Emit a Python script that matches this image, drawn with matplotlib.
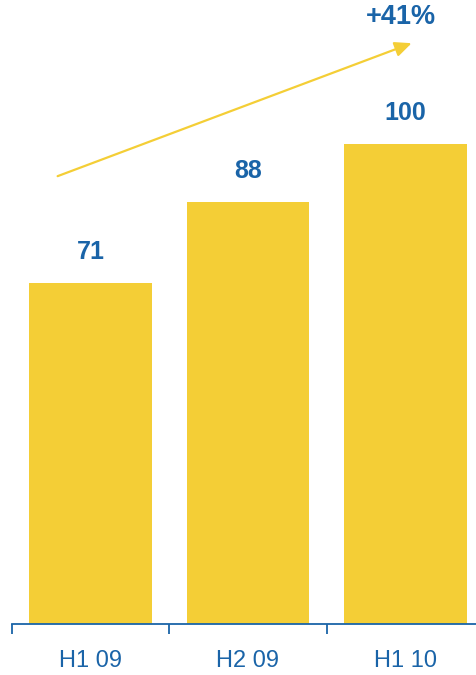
import matplotlib.pyplot as plt
from matplotlib.ticker import FixedLocator

# data
periods = ['H1 09', 'H2 09', 'H1 10']
values = [71, 88, 100]

bar_color = '#F4CE36'
blue = '#1A64A8'

plt.rcParams['font.family'] = ['Liberation Sans', 'DejaVu Sans']

fig = plt.figure(figsize=(4.77, 6.75), dpi=100)
# axes run a bit past the right edge, like the original slide crop
ax = fig.add_axes([12 / 477, 51 / 675, 472 / 477, 624 / 675])

x = list(range(len(periods)))
bars = ax.bar(x, values, width=0.78, color=bar_color, zorder=2)

ax.set_xlim(-0.5, len(periods) - 0.5)
ax.set_ylim(0, 130)

# value labels above bars
for xi, v in zip(x, values):
    ax.annotate(str(v), (xi, v), xytext=(0, 31), textcoords='offset pixels',
                ha='center', va='center', fontsize=18, fontweight='bold', color=blue)

# growth arrow
growth = round((values[-1] / values[0] - 1) * 100)
ax.annotate('', xy=(2.04, 121), xytext=(-0.21, 93.3),
            arrowprops=dict(arrowstyle='-|>,head_length=1.0,head_width=0.45',
                            color=bar_color, lw=1.6, shrinkA=0, shrinkB=0))
ax.text(1.97, 126.4, f'+{growth}%', ha='center', va='center',
        fontsize=19.5, fontweight='bold', color=blue)

# axis styling
for s in ['top', 'right', 'left']:
    ax.spines[s].set_visible(False)
ax.spines['bottom'].set_color(blue)
ax.spines['bottom'].set_linewidth(1.3)
ax.set_yticks([])
ax.set_xticks(x)
ax.set_xticklabels(periods, fontsize=17, color=blue)
ax.xaxis.set_minor_locator(FixedLocator([i - 0.5 for i in range(len(periods) + 1)]))
ax.tick_params(axis='x', which='major', length=0, pad=19)
ax.tick_params(axis='x', which='minor', length=7, width=1.3, color=blue, direction='out')

fig.savefig('out.png', dpi=100)
